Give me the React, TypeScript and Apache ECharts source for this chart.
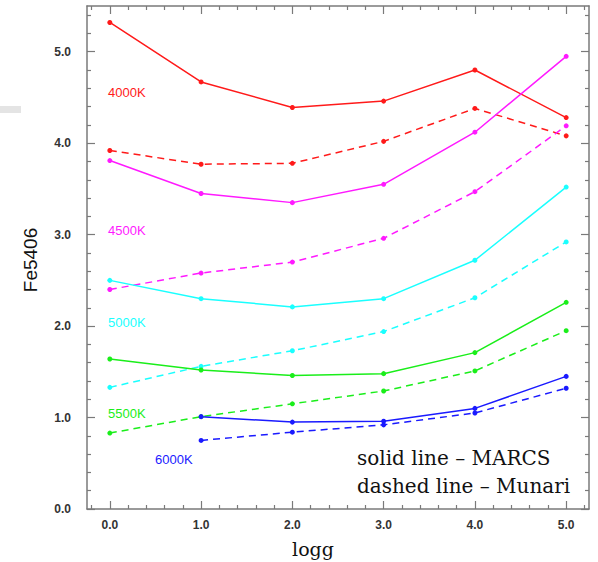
import React, { useEffect, useRef } from "react";
import * as echarts from "echarts";

const logg = [0, 1, 2, 3, 4, 5];
const marcs4000 = [5.32, 4.67, 4.39, 4.46, 4.8, 4.28];
const munari4000 = [3.92, 3.77, 3.78, 4.02, 4.38, 4.08];
const marcs4500 = [3.81, 3.45, 3.35, 3.55, 4.12, 4.95];
const munari4500 = [2.4, 2.58, 2.7, 2.96, 3.47, 4.19];
const marcs5000 = [2.5, 2.3, 2.21, 2.3, 2.72, 3.52];
const munari5000 = [1.33, 1.56, 1.73, 1.94, 2.31, 2.92];
const marcs5500 = [1.64, 1.52, 1.46, 1.48, 1.71, 2.26];
const munari5500 = [0.83, 1.01, 1.15, 1.29, 1.51, 1.95];
const marcs6000 = [null, 1.01, 0.95, 0.96, 1.1, 1.45];
const munari6000 = [null, 0.75, 0.84, 0.92, 1.05, 1.32];

const xMajor = [0, 1, 2, 3, 4, 5];
const xMinor = [-0.2, 0.2, 0.4, 0.6, 0.8, 1.2, 1.4, 1.6, 1.8, 2.2, 2.4, 2.6, 2.8, 3.2, 3.4, 3.6, 3.8, 4.2, 4.4, 4.6, 4.8, 5.2];
const yMajor = [0, 1, 2, 3, 4, 5];
const yMinor = [0.2, 0.4, 0.6, 0.8, 1.2, 1.4, 1.6, 1.8, 2.2, 2.4, 2.6, 2.8, 3.2, 3.4, 3.6, 3.8, 4.2, 4.4, 4.6, 4.8, 5.2, 5.4];

const tempLabels = ["4000K", "4500K", "5000K", "5500K", "6000K"];
const colors = ["#ff1a1a", "#ff1aff", "#1affff", "#1aee1a", "#1a1aff"];
const marcsSets = [marcs4000, marcs4500, marcs5000, marcs5500, marcs6000];
const munariSets = [munari4000, munari4500, munari5000, munari5500, munari6000];

const AXIS_COLOR = "#7a7a7a";

function pairs(vals: (number | null)[]) {
  const out: [number, number][] = [];
  vals.forEach((v, i) => {
    if (v !== null) out.push([logg[i], v]);
  });
  return out;
}

export default function App() {
  const ref = useRef<HTMLDivElement>(null);
  useEffect(() => {
    if (!ref.current) return;
    const chart = echarts.init(ref.current, null, { renderer: "svg" });
    const XMIN = -0.25, XMAX = 5.25, YMIN = 0, YMAX = 5.5;
    const lineCommon = { show: true, onZero: false, lineStyle: { color: AXIS_COLOR, width: 1.5 } };
    const noLine = { show: false, onZero: false };
    const mkX = (pos: string, vals: number[], len: number, showLine: boolean, labels: boolean) => ({
      type: "value", position: pos, min: XMIN, max: XMAX, gridIndex: 0,
      axisLine: showLine ? lineCommon : noLine,
      axisTick: { show: true, inside: true, length: len, customValues: vals, lineStyle: { color: AXIS_COLOR, width: 1.2 } },
      axisLabel: labels
        ? { show: true, customValues: vals, formatter: (v: number) => v.toFixed(1), fontFamily: "Liberation Sans", fontWeight: "bold", fontSize: 12, color: "#333", margin: 10 }
        : { show: false },
      splitLine: { show: false },
    });
    const mkY = (pos: string, vals: number[], len: number, showLine: boolean, labels: boolean) => ({
      type: "value", position: pos, min: YMIN, max: YMAX, gridIndex: 0,
      axisLine: showLine ? lineCommon : noLine,
      axisTick: { show: true, inside: true, length: len, customValues: vals, lineStyle: { color: AXIS_COLOR, width: 1.2 } },
      axisLabel: labels
        ? { show: true, customValues: vals, formatter: (v: number) => v.toFixed(1), fontFamily: "Liberation Sans", fontWeight: "bold", fontSize: 12, color: "#333", margin: 16 }
        : { show: false },
      splitLine: { show: false },
    });

    const series: any[] = [];
    for (let i = 0; i < 5; i++) {
      series.push({
        type: "line", xAxisIndex: 0, yAxisIndex: 0, data: pairs(marcsSets[i]),
        symbol: "circle", symbolSize: 5, itemStyle: { color: colors[i] },
        lineStyle: { color: colors[i], width: 1.5, type: "solid" },
      });
      series.push({
        type: "line", xAxisIndex: 0, yAxisIndex: 0, data: pairs(munariSets[i]),
        symbol: "circle", symbolSize: 5, itemStyle: { color: colors[i] },
        lineStyle: { color: colors[i], width: 1.5, type: [7, 5] },
      });
    }

    const labelPos = [
      [108, 92], [108, 230], [108, 322], [108, 413], [155, 459],
    ];

    chart.setOption({
      animation: false,
      backgroundColor: "#ffffff",
      grid: { left: 87, right: 9, top: 6, bottom: 53, containLabel: false },
      xAxis: [
        mkX("bottom", xMajor, 8, true, true),
        mkX("bottom", xMinor, 4, false, false),
        mkX("top", xMajor, 8, true, false),
        mkX("top", xMinor, 4, false, false),
      ],
      yAxis: [
        mkY("left", yMajor, 8, true, true),
        mkY("left", yMinor, 4, false, false),
        mkY("right", yMajor, 8, true, false),
        mkY("right", yMinor, 4, false, false),
      ],
      series,
      graphic: [
        { type: "rect", left: 0, top: 106, shape: { width: 21, height: 7 }, style: { fill: "#e4e4e4" } },
        ...tempLabels.map((t, i) => ({
          type: "text", x: labelPos[i][0], y: labelPos[i][1],
          style: { text: t, fill: colors[i], font: "13px 'Liberation Sans'", verticalAlign: "middle", align: "left" },
        })),
        {
          type: "text", x: 30, y: 260, rotation: Math.PI / 2,
          style: { text: "Fe5406", fill: "#111", font: "19px 'Liberation Sans'", align: "center", verticalAlign: "middle" },
        },
        {
          type: "text", x: 313, y: 549,
          style: { text: "logg", fill: "#111", font: "19px 'DejaVu Serif'", align: "center", verticalAlign: "middle" },
        },
        {
          type: "text", x: 357, y: 458,
          style: { text: "solid line \u2013 MARCS", fill: "#111", font: "20px 'DejaVu Serif'", align: "left", verticalAlign: "middle" },
        },
        {
          type: "text", x: 357, y: 486,
          style: { text: "dashed line \u2013 Munari", fill: "#111", font: "20px 'DejaVu Serif'", align: "left", verticalAlign: "middle" },
        },
      ],
    });
    return () => chart.dispose();
  }, []);
  return (
    <div
      ref={ref}
      style={{ position: "fixed", left: 0, top: 0, width: 598, height: 562, margin: 0, overflow: "visible" }}
    />
  );
}
